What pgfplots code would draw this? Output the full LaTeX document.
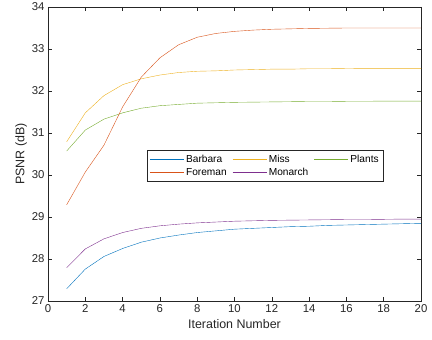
\documentclass[border=0pt]{standalone}
\usepackage{pgfplots}
\pgfplotsset{compat=1.18}
\usepackage{fontspec}
\setmainfont{Liberation Sans}
\definecolor{mblue}{rgb}{0,0.447,0.741}
\definecolor{morange}{rgb}{0.85,0.325,0.098}
\definecolor{myellow}{rgb}{0.929,0.694,0.125}
\definecolor{mpurple}{rgb}{0.494,0.184,0.556}
\definecolor{mgreen}{rgb}{0.466,0.674,0.188}
\definecolor{axgray}{rgb}{0.15,0.15,0.15}
\begin{document}
\begin{tikzpicture}
\useasboundingbox (-48bp,-39bp) rectangle (384bp,301bp);
\begin{axis}[
  at={(0,0)}, anchor=south west,
  scale only axis, width=373bp, height=294bp,
  xmin=0, xmax=20, ymin=27, ymax=34,
  xtick={0,2,...,20}, ytick={27,28,...,34},
  tick align=inside, major tick length=4bp,
  axis line style={axgray, line width=0.5bp},
  tick style={axgray, line width=0.5bp},
  tick label style={font=\fontsize{11.4}{12}\selectfont, text=axgray},
  label style={font=\fontsize{12.5}{14}\selectfont, text=axgray},
  ylabel style={yshift=-2bp},
  /pgf/number format/assume math mode=true,
  xlabel={Iteration Number}, ylabel={PSNR (dB)},
  every plot/.append style={line width=0.8bp},
  legend columns=3,
  legend style={at={(0.582,0.459)}, anchor=center, draw=axgray, line width=0.6bp,
    font=\fontsize{10.2}{12}\selectfont, inner sep=2.5bp,
    /tikz/every even column/.append style={column sep=3.5bp}},
  legend cell align=left,
  legend image code/.code={\draw[#1] (0bp,0bp) -- (34bp,0bp);},
]
\addplot[mblue] coordinates {(1,27.29)(2,27.76)(3,28.06)(4,28.25)(5,28.40)(6,28.50)(7,28.57)(8,28.63)(9,28.67)(10,28.71)(11,28.73)(12,28.75)(13,28.77)(14,28.78)(15,28.80)(16,28.81)(17,28.82)(18,28.83)(19,28.84)(20,28.85)};
\addlegendentry{Barbara}
\addplot[myellow] coordinates {(1,30.79)(2,31.48)(3,31.89)(4,32.15)(5,32.29)(6,32.38)(7,32.44)(8,32.47)(9,32.48)(10,32.50)(11,32.51)(12,32.52)(13,32.52)(14,32.53)(15,32.53)(16,32.535)(17,32.54)(18,32.54)(19,32.54)(20,32.54)};
\addlegendentry{Miss}
\addplot[mgreen] coordinates {(1,30.57)(2,31.07)(3,31.33)(4,31.48)(5,31.59)(6,31.65)(7,31.68)(8,31.71)(9,31.72)(10,31.73)(11,31.735)(12,31.74)(13,31.745)(14,31.75)(15,31.75)(16,31.755)(17,31.755)(18,31.76)(19,31.76)(20,31.76)};
\addlegendentry{Plants}
\addplot[morange] coordinates {(1,29.29)(2,30.07)(3,30.71)(4,31.62)(5,32.33)(6,32.79)(7,33.10)(8,33.28)(9,33.37)(10,33.42)(11,33.45)(12,33.47)(13,33.48)(14,33.49)(15,33.495)(16,33.50)(17,33.50)(18,33.50)(19,33.50)(20,33.50)};
\addlegendentry{Foreman}
\addplot[mpurple] coordinates {(1,27.79)(2,28.24)(3,28.48)(4,28.63)(5,28.73)(6,28.79)(7,28.83)(8,28.86)(9,28.88)(10,28.90)(11,28.91)(12,28.92)(13,28.925)(14,28.93)(15,28.935)(16,28.94)(17,28.94)(18,28.945)(19,28.95)(20,28.95)};
\addlegendentry{Monarch}
\end{axis}
\end{tikzpicture}
\end{document}
